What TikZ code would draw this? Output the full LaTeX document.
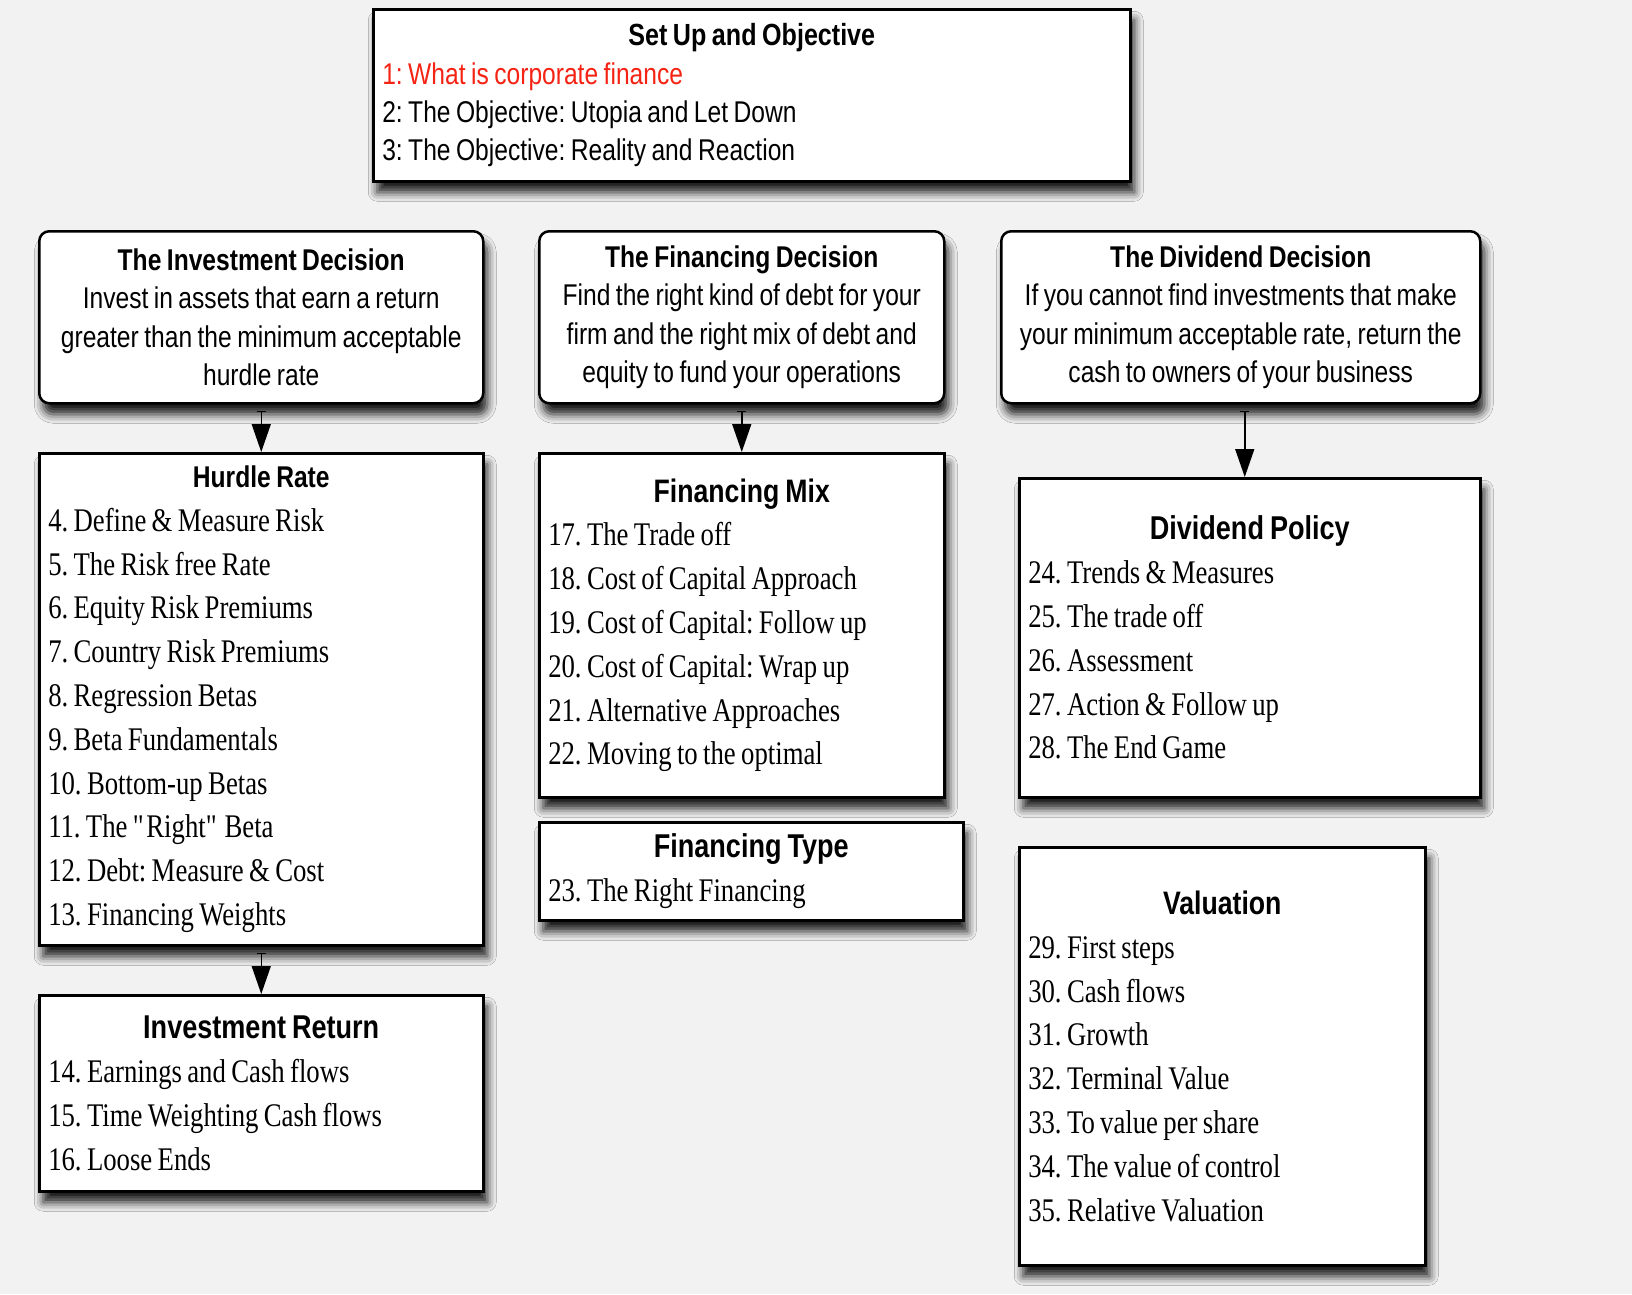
\documentclass[tikz,border=0pt]{standalone}
\usepackage{fontspec}
\setmainfont{Liberation Serif}[FakeStretch=0.81, WordSpace=0.8]
\newfontfamily\headfont{Liberation Sans}[FakeStretch=0.82, WordSpace=0.8]
\usepackage{tikz}
\usetikzlibrary{arrows.meta,shadows.blur}

\definecolor{pagegray}{RGB}{242,242,242}
\definecolor{itemred}{RGB}{245,35,20}

\frenchspacing
\newcommand\panelhead[2]{\spaceskip=0pt\xspaceskip=0pt\relax
  \makebox[\hsize][c]{\headfont\bfseries\fontsize{#1}{43.8}\selectfont #2}}

\tikzset{
  panel/.style={draw=black, line width=2.5pt, fill=white, anchor=north west,
    inner xsep=9pt, inner ysep=0pt,
    blur shadow={shadow xshift=4pt, shadow yshift=-11pt, shadow blur radius=9pt, shadow opacity=90}},
  listbox/.style={panel, align=left, font=\fontsize{33}{43.8}\selectfont},
  decision/.style={panel, rounded corners=10pt, align=center, font=\headfont\fontsize{30}{38.5}\selectfont},
  flow/.style={{Bar[width=9pt,line width=1.2pt]}-{Triangle[length=28pt,width=19pt]}, line width=1.5pt, shorten <=6pt}
}

\begin{document}
\begin{tikzpicture}[x=1pt,y=-1pt]

\fill[pagegray] (0,0) rectangle (1632,1294);
\useasboundingbox (0,0) rectangle (1632,1294);

% top box
\node[panel, align=left, font=\headfont\fontsize{30}{38.2}\selectfont,
  minimum width=757pt, minimum height=172pt, text width=739pt] (objective) at (372,8)
  {\spaceskip=0pt\xspaceskip=0pt\relax
   \makebox[\hsize][c]{\bfseries\fontsize{30.6}{38.2}\selectfont Set Up and Objective}\\
   \textcolor{itemred}{1: What is corporate finance}\\
   2: The Objective: Utopia and Let Down\\
   3: The Objective: Reality and Reaction};

% the three decisions
\node[decision, minimum width=444pt, minimum height=172pt] (invest) at (38,230)
  {{\bfseries The Investment Decision}\\
   Invest in assets that earn a return\\
   greater than the minimum acceptable\\
   hurdle rate};
\node[decision, minimum width=405pt, minimum height=172pt] (finance) at (538,230)
  {{\bfseries The Financing Decision}\\
   Find the right kind of debt for your\\
   firm and the right mix of debt and\\
   equity to fund your operations};
\node[decision, minimum width=479pt, minimum height=172pt] (dividend) at (1000,230)
  {{\bfseries The Dividend Decision}\\
   If you cannot find investments that make\\
   your minimum acceptable rate, return the\\
   cash to owners of your business};

% investment column
\node[listbox, minimum width=444pt, minimum height=492pt, text width=426pt] (hurdle) at (38,452)
  {\panelhead{30}{Hurdle Rate}\\
   4. Define \& Measure Risk\\
   5. The Risk free Rate\\
   6. Equity Risk Premiums\\
   7. Country Risk Premiums\\
   8. Regression Betas\\
   9. Beta Fundamentals\\
   10. Bottom-up Betas\\
   11. The \textquotedbl Right\textquotedbl{} Beta\\
   12. Debt: Measure \& Cost\\
   13. Financing Weights};
\node[listbox, minimum width=444pt, minimum height=196pt, text width=426pt] (invreturn) at (38,994)
  {\panelhead{33}{Investment Return}\\
   14. Earnings and Cash flows\\
   15. Time Weighting Cash flows\\
   16. Loose Ends};

% financing column
\node[listbox, minimum width=405pt, minimum height=344pt, text width=387pt] (finmix) at (538,452)
  {\panelhead{32.5}{Financing Mix}\\
   17. The Trade off\\
   18. Cost of Capital Approach\\
   19. Cost of Capital: Follow up\\
   20. Cost of Capital: Wrap up\\
   21. Alternative Approaches\\
   22. Moving to the optimal};
\node[listbox, minimum width=424pt, minimum height=98pt, text width=406pt] (fintype) at (538,821)
  {\panelhead{33}{Financing Type}\\
   23. The Right Financing};

% dividend column
\node[listbox, minimum width=461pt, minimum height=319pt, text width=443pt] (divpolicy) at (1018,477)
  {\panelhead{33}{Dividend Policy}\\
   24. Trends \& Measures\\
   25. The trade off\\
   26. Assessment\\
   27. Action \& Follow up\\
   28. The End Game};
\node[listbox, minimum width=406pt, minimum height=418pt, text width=388pt] (valuation) at (1018,846)
  {\panelhead{32.5}{Valuation}\\
   29. First steps\\
   30. Cash flows\\
   31. Growth\\
   32. Terminal Value\\
   33. To value per share\\
   34. The value of control\\
   35. Relative Valuation};

% arrows
\draw[flow] (invest.south) -- (hurdle.north);
\draw[flow] (hurdle.south) -- (invreturn.north);
\draw[flow] (finance.south) -- (finmix.north);
\draw[flow] ([xshift=4pt]dividend.south) -- ([xshift=-5pt]divpolicy.north);

\end{tikzpicture}
\end{document}
